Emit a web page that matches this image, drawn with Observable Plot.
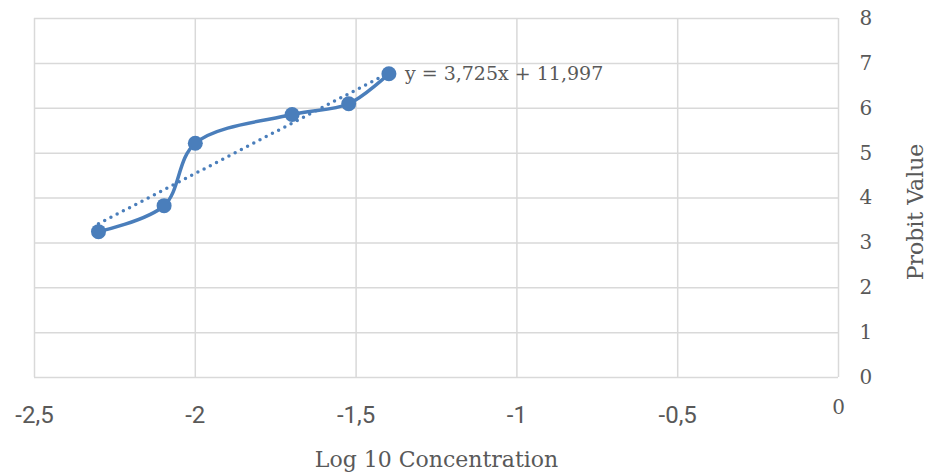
<!DOCTYPE html>
<html>
<head>
<meta charset="utf-8">
<script src="https://cdn.jsdelivr.net/npm/d3@7"></script>
<script src="https://cdn.jsdelivr.net/npm/@observablehq/plot@0.6"></script>
<style>
  html, body { margin: 0; padding: 0; background: #fff; }
</style>
</head>
<body>
<div id="chart"></div>
<script>
// Data
const logConc = [-2.301, -2.097, -2.0, -1.699, -1.523, -1.398];
const probit  = [3.25, 3.83, 5.22, 5.86, 6.10, 6.77];
const xTicks = [-2.5, -2, -1.5, -1, -0.5];
const xZeroTick = [0];
const yTicks = [0, 1, 2, 3, 4, 5, 6, 7, 8];
const trendSlope = 3.725;
const trendIntercept = 11.997;
const equationLabel = "y = 3,725x + 11,997";
const xTitle = "Log 10 Concentration";
const yTitle = "Probit Value";

const points = logConc.map((x, i) => ({x, y: probit[i]}));
const xMin = d3.min(logConc), xMax = d3.max(logConc);
const trend = [xMin, xMax].map(x => ({x, y: trendSlope * x + trendIntercept}));

const blue = "#4a7ebb";
const grid = "#d9d9d9";
const textGray = "#595959";
const serif = "DejaVu Serif";
const fmt = d => String(d).replace(".", ",");

const chart = Plot.plot({
  width: 929,
  height: 473,
  marginLeft: 34,
  marginRight: 91,
  marginTop: 18,
  marginBottom: 96,
  x: {domain: [-2.5, 0]},
  y: {domain: [0, 8]},
  style: {background: "#fff", color: textGray},
  marks: [
    Plot.gridX([...xTicks, ...xZeroTick], {stroke: grid, strokeOpacity: 1, strokeWidth: 1.5}),
    Plot.gridY(yTicks, {stroke: grid, strokeOpacity: 1, strokeWidth: 1.5}),
    Plot.line(trend, {x: "x", y: "y", stroke: blue, strokeWidth: 3.5, strokeDasharray: "0 7", strokeLinecap: "round"}),
    Plot.line(points, {x: "x", y: "y", stroke: blue, strokeWidth: 3.5, curve: "catmull-rom"}),
    Plot.dot(points, {x: "x", y: "y", r: 7.5, fill: blue, stroke: "none"}),
    Plot.axisX(xTicks, {anchor: "bottom", tickSize: 0, tickPadding: 28, tickFormat: fmt, label: null,
      fontFamily: "Roboto", fontSize: 24, fill: textGray}),
    Plot.axisX(xZeroTick, {anchor: "bottom", tickSize: 0, tickPadding: 22, tickFormat: fmt, label: null,
      fontFamily: serif, fontSize: 20, fill: textGray}),
    Plot.axisY(yTicks, {anchor: "right", tickSize: 0, tickPadding: 21, label: null,
      fontFamily: serif, fontSize: 20, fill: textGray}),
    Plot.text([points[points.length - 1]], {x: "x", y: "y", text: () => equationLabel, textAnchor: "start", dx: 16,
      fontFamily: serif, fontSize: 19, fill: textGray}),
    Plot.text([xTitle], {text: d => d, frameAnchor: "bottom", textAnchor: "middle", dy: 89, fontFamily: serif, fontSize: 22, fill: textGray}),
    Plot.text([yTitle], {text: d => d, frameAnchor: "right", textAnchor: "middle", lineAnchor: "middle", rotate: -90, dx: 77, dy: 14, fontFamily: serif, fontSize: 22, fill: textGray})
  ]
});
document.getElementById("chart").appendChild(chart);
</script>
</body>
</html>
